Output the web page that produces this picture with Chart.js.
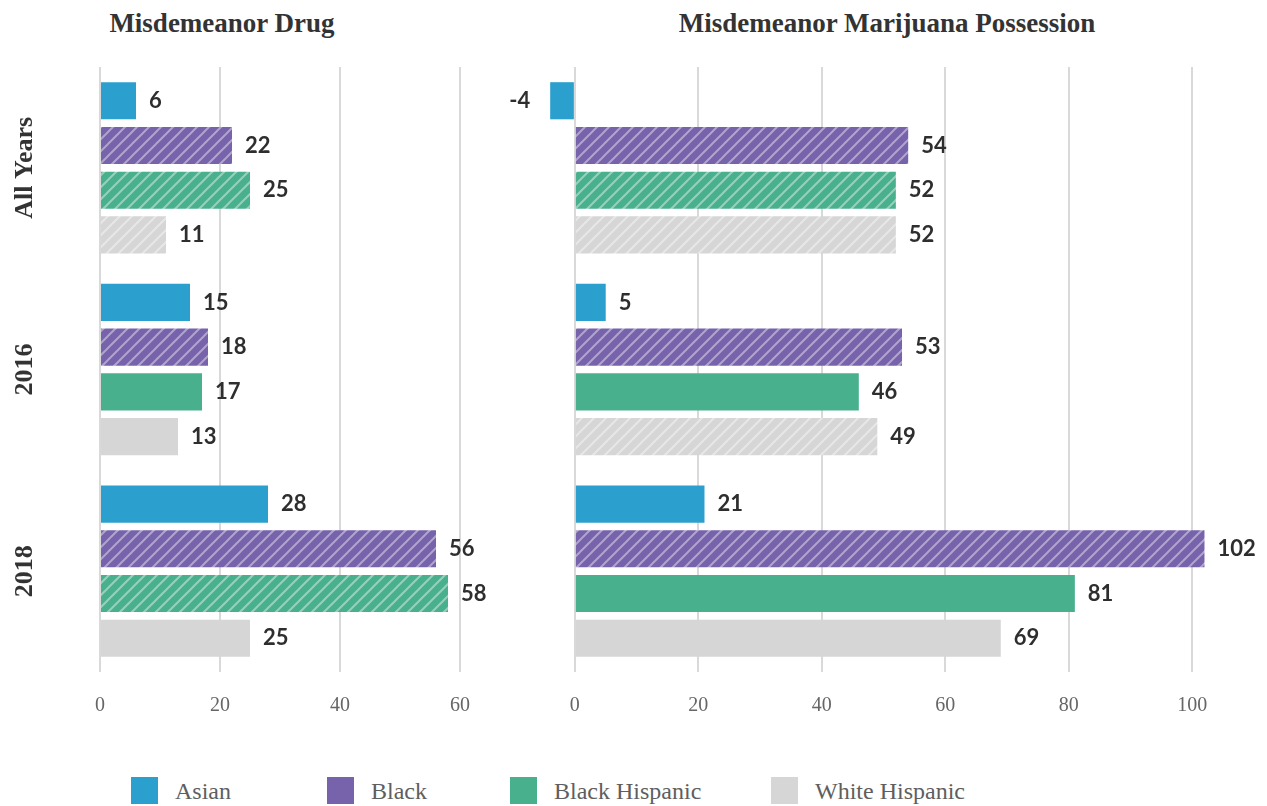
<!DOCTYPE html>
<html>
<head>
<meta charset="utf-8">
<title>Misdemeanor Drug / Marijuana Possession</title>
<script src="https://cdn.jsdelivr.net/npm/chart.js@4.4.1/dist/chart.umd.min.js"></script>
<style>
  body { margin: 0; background: #fff; overflow: hidden; }
  #wrap { position: relative; width: 1267px; height: 806px; }
  canvas { position: absolute; top: 0; }
  .panel-title {
    position: absolute; top: 8px; line-height: 27px;
    font: bold 27px "Liberation Serif", serif; color: #333;
    text-align: center; white-space: nowrap;
  }
  .legend-item { position: absolute; top: 777px; height: 29px; }
  .legend-item .swatch { position: absolute; left: 0; top: 0; width: 27px; height: 27px; }
  .legend-item .name {
    position: absolute; left: 44px; top: 1px; line-height: 27px;
    font: 24px "Liberation Serif", serif; color: #5e5e5e; white-space: nowrap;
  }
</style>
</head>
<body>
<div id="wrap">
  <div class="panel-title" style="left:0;width:444px">Misdemeanor Drug</div>
  <div class="panel-title" style="left:640px;width:494px">Misdemeanor Marijuana Possession</div>
  <canvas id="drugChart" width="520" height="763" style="left:0"></canvas>
  <canvas id="potChart" width="807" height="763" style="left:460px"></canvas>
  <div id="legend"></div>
</div>

<script>
// ---- data ----
const years = ["All Years", "2016", "2018"];
const groups = ["Asian", "Black", "Black Hispanic", "White Hispanic"];
const groupColors = ["#2ba0cf", "#7762ac", "#49b08d", "#d6d6d6"];

// Misdemeanor drug, per group, values for All Years / 2016 / 2018
const drugAsian = [6, 15, 28];
const drugBlack = [22, 18, 56];
const drugBlackHisp = [25, 17, 58];
const drugWhiteHisp = [11, 13, 25];
// 1 = hatched bar
const drugHatchAsian = [0, 0, 0];
const drugHatchBlack = [1, 1, 1];
const drugHatchBlackHisp = [1, 0, 1];
const drugHatchWhiteHisp = [1, 0, 0];
const drugTicks = [0, 20, 40, 60];

// Misdemeanor marijuana possession
const potAsian = [-4, 5, 21];
const potBlack = [54, 53, 102];
const potBlackHisp = [52, 46, 81];
const potWhiteHisp = [52, 49, 69];
const potHatchAsian = [0, 0, 0];
const potHatchBlack = [1, 1, 1];
const potHatchBlackHisp = [1, 0, 0];
const potHatchWhiteHisp = [1, 1, 0];
const potTicks = [0, 20, 40, 60, 80, 100];

const legendX = [131, 327, 510, 771];

// ---- helpers ----
const SERIF = "'Liberation Serif', serif";
const SANS = "Lato, 'Open Sans', sans-serif";

function hatch(color) {
  const s = 12;
  const c = document.createElement("canvas");
  c.width = s; c.height = s;
  const g = c.getContext("2d");
  g.fillStyle = color;
  g.fillRect(0, 0, s, s);
  g.strokeStyle = "rgba(255,255,255,0.42)";
  g.lineWidth = 2;
  g.beginPath();
  g.moveTo(-2, s + 2); g.lineTo(s + 2, -2);
  g.moveTo(-2, 2); g.lineTo(2, -2);
  g.moveTo(s - 2, s + 2); g.lineTo(s + 2, s - 2);
  g.stroke();
  return g.createPattern(c, "repeat");
}

function fills(color, flags) {
  const pat = hatch(color);
  return flags.map(f => f ? pat : color);
}

// value labels next to each bar end
const valueLabels = {
  id: "valueLabels",
  afterDatasetsDraw(chart) {
    const ctx = chart.ctx;
    ctx.save();
    ctx.font = "bold 22px " + SANS;
    ctx.fillStyle = "#2e2e2e";
    ctx.textBaseline = "middle";
    chart.data.datasets.forEach((ds, di) => {
      chart.getDatasetMeta(di).data.forEach((bar, i) => {
        const v = ds.data[i];
        if (v >= 0) {
          ctx.textAlign = "left";
          ctx.fillText(String(v), bar.x + 13, bar.y);
        } else {
          ctx.textAlign = "right";
          ctx.fillText(String(v), bar.x - 20, bar.y);
        }
      });
    });
    ctx.restore();
  }
};

// rotated year labels on the left panel
const yearLabels = {
  id: "yearLabels",
  afterDraw(chart) {
    const y = chart.scales.y;
    const ctx = chart.ctx;
    ctx.save();
    ctx.font = "bold 26px " + SERIF;
    ctx.fillStyle = "#333";
    ctx.textAlign = "center";
    ctx.textBaseline = "alphabetic";
    years.forEach((lbl, i) => {
      ctx.save();
      ctx.translate(32, y.getPixelForValue(i));
      ctx.rotate(-Math.PI / 2);
      ctx.fillText(lbl, 0, 0);
      ctx.restore();
    });
    ctx.restore();
  }
};

function makeChart(id, series, hatches, ticks, min, max, padding, plugins) {
  return new Chart(document.getElementById(id), {
    type: "bar",
    data: {
      labels: years,
      datasets: groups.map((g, k) => ({
        label: g,
        data: series[k],
        backgroundColor: fills(groupColors[k], hatches[k]),
        borderWidth: 0,
        barPercentage: 0.83,
        categoryPercentage: 0.887
      }))
    },
    options: {
      indexAxis: "y",
      responsive: false,
      animation: false,
      layout: { padding },
      scales: {
        x: {
          min, max,
          afterBuildTicks: sc => { sc.ticks = ticks.map(v => ({ value: v })); },
          grid: { color: "#d9d9d9", lineWidth: 2, drawTicks: false },
          border: { display: false },
          ticks: {
            color: "#666",
            padding: 22,
            font: { family: SERIF, size: 20 }
          }
        },
        y: { display: false }
      },
      plugins: {
        legend: { display: false },
        tooltip: { enabled: false }
      }
    },
    plugins
  });
}

makeChart("drugChart",
  [drugAsian, drugBlack, drugBlackHisp, drugWhiteHisp],
  [drugHatchAsian, drugHatchBlack, drugHatchBlackHisp, drugHatchWhiteHisp],
  drugTicks, 0, 60,
  { top: 67, bottom: 23, left: 100, right: 60 },
  [valueLabels, yearLabels]);

makeChart("potChart",
  [potAsian, potBlack, potBlackHisp, potWhiteHisp],
  [potHatchAsian, potHatchBlack, potHatchBlackHisp, potHatchWhiteHisp],
  potTicks, -5, 105,
  { top: 67, bottom: 23, left: 84, right: 44 },
  [valueLabels]);

// legend
const legend = document.getElementById("legend");
groups.forEach((g, k) => {
  const item = document.createElement("div");
  item.className = "legend-item";
  item.style.left = legendX[k] + "px";
  item.innerHTML = `<div class="swatch" style="background:${groupColors[k]}"></div><div class="name">${g}</div>`;
  legend.appendChild(item);
});
</script>
</body>
</html>
